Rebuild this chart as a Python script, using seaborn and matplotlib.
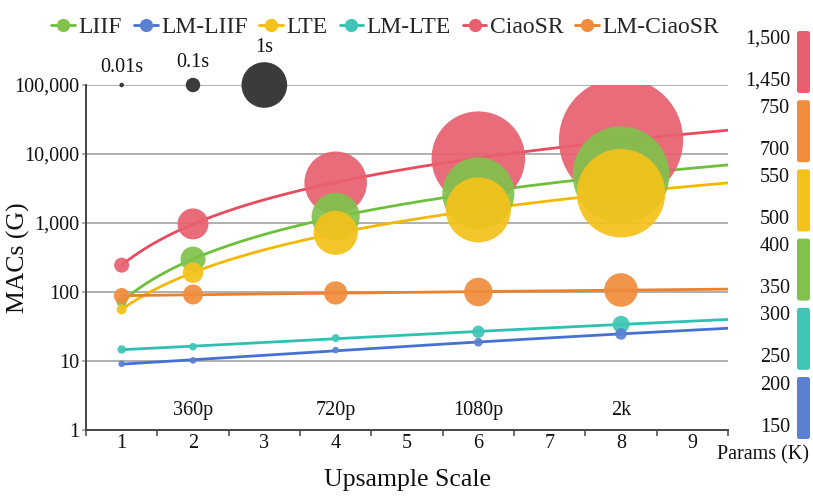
import numpy as np
import pandas as pd
import matplotlib
matplotlib.use("Agg")
import matplotlib.pyplot as plt
import seaborn as sns
from matplotlib.lines import Line2D
from matplotlib.patches import FancyBboxPatch
from matplotlib.ticker import FixedLocator, NullLocator, FuncFormatter

# upsample scales where each model was measured
scales = [1, 2, 4, 6, 8]

# MACs (G) per model
macs_liif = [72, 300, 1230, 2700, 5000]
macs_lm_liif = [9.1, 10.2, 14.4, 18.7, 24.7]
macs_lte = [56, 190, 720, 1550, 2700]
macs_lm_lte = [14.7, 16.1, 21.5, 26.5, 34]
macs_ciaosr = [245, 970, 3830, 8700, 15900]
macs_lm_ciaosr = [88, 92, 97, 100, 107]

# run time (s) per model -> bubble area
time_liif = [0.05, 0.30, 1.11, 2.49, 4.49]
time_lm_liif = [0.021, 0.021, 0.021, 0.036, 0.065]
time_lte = [0.048, 0.20, 0.93, 2.03, 3.75]
time_lm_lte = [0.034, 0.028, 0.031, 0.074, 0.139]
time_ciaosr = [0.108, 0.46, 1.88, 4.2, 7.4]
time_lm_ciaosr = [0.118, 0.19, 0.26, 0.39, 0.54]

# params (K) ranges shown on the right
params_ciaosr = (1450, 1500)
params_lm_ciaosr = (700, 750)
params_lte = (500, 550)
params_liif = (350, 400)
params_lm_lte = (250, 300)
params_lm_liif = (150, 200)

# reference bubbles
ref_x = [1, 2, 3]
ref_time = [0.01, 0.1, 1.0]
ref_labels = ["0.01s", "0.1s", "1s"]

res_x = [2, 4, 6, 8]
res_labels = ["360p", "720p", "1080p", "2k"]

yticks = [1, 10, 100, 1000, 10000, 100000]
xticks = [1, 2, 3, 4, 5, 6, 7, 8, 9]

# name, macs, time, params, bubble color, line color
models = [
    ("CiaoSR", macs_ciaosr, time_ciaosr, params_ciaosr, "#e8606f", "#e84a5f"),
    ("LIIF", macs_liif, time_liif, params_liif, "#80c24c", "#6dbf3c"),
    ("LTE", macs_lte, time_lte, params_lte, "#f4c21a", "#f5b800"),
    ("LM-LTE", macs_lm_lte, time_lm_lte, params_lm_lte, "#3fc6b6", "#2fc0b0"),
    ("LM-LIIF", macs_lm_liif, time_lm_liif, params_lm_liif, "#5b80d2", "#4572d0"),
    ("LM-CiaoSR", macs_lm_ciaosr, time_lm_ciaosr, params_lm_ciaosr, "#f08c3c", "#f07f2a"),
]
legend_order = ["LIIF", "LM-LIIF", "LTE", "LM-LTE", "CiaoSR", "LM-CiaoSR"]
bar_order = ["CiaoSR", "LM-CiaoSR", "LTE", "LIIF", "LM-LTE", "LM-LIIF"]

AREA = 1080  # points^2 per second

sns.set_theme(style="white")
plt.rcParams["font.family"] = ["Liberation Serif", "DejaVu Serif"]

fig = plt.figure(figsize=(8.13, 4.99), dpi=100)
ax = fig.add_axes([86 / 813, 69 / 499, 642 / 813, 345 / 499])

ax.set_yscale("log")
ax.set_xlim(0.5, 9.5)
ax.set_ylim(1, 100000)

# horizontal grid
for yv in yticks[1:]:
    ax.axhline(yv, color="#9a9a9a", lw=1.1, zorder=0)

# fitted trend curves
xs = np.linspace(1, 9.5, 200)
for name, macs, t, p, c, lc in models:
    coef = np.polyfit(scales, macs, 2, w=1 / np.array(macs))
    fit = pd.DataFrame({"x": xs, "y": np.polyval(coef, xs)})
    sns.lineplot(data=fit, x="x", y="y", color=lc, lw=2.0, ax=ax, zorder=2)

# bubbles
for name, macs, t, p, c, lc in models:
    df = pd.DataFrame({"x": scales, "y": macs})
    sns.scatterplot(data=df, x="x", y="y", s=np.array(t) * AREA, color=c,
                    alpha=0.92, edgecolor="none", linewidth=0, ax=ax, zorder=3)

# time reference bubbles
ref = pd.DataFrame({"x": ref_x, "y": [100000] * 3})
sns.scatterplot(data=ref, x="x", y="y", s=np.array(ref_time) * AREA, color="#3b3b3b",
                edgecolor="none", linewidth=0, ax=ax, zorder=4, clip_on=False)
for xv, tv, lab in zip(ref_x, ref_time, ref_labels):
    r = np.sqrt(tv * AREA) / 2
    ax.annotate(lab, (xv, 100000), xytext=(0, r + 4), textcoords="offset points",
                ha="center", va="bottom", fontsize=14.5, color="#111111")

for xv, lab in zip(res_x, res_labels):
    ax.text(xv, 1.9, lab, ha="center", va="center", fontsize=14.5, color="#111111")

# axes styling
for side in ["top", "right"]:
    ax.spines[side].set_visible(False)
ax.spines["left"].set_color("#444444")
ax.spines["bottom"].set_color("#444444")
ax.spines["left"].set_linewidth(1.4)
ax.spines["bottom"].set_linewidth(1.4)

ax.yaxis.set_major_locator(FixedLocator(yticks))
ax.yaxis.set_minor_locator(NullLocator())
ax.yaxis.set_major_formatter(FuncFormatter(lambda v, pos: f"{int(v):,}"))
ax.tick_params(axis="y", left=True, length=3, width=1.1, color="#9a9a9a",
               labelsize=14.5, labelcolor="#111111", pad=2)

ax.set_xticks(xticks)
ax.set_xticks(np.arange(0.5, 9.6, 1.0), minor=True)
ax.tick_params(axis="x", which="major", bottom=False, length=0, labelsize=14.5,
               labelcolor="#111111", pad=3)
ax.tick_params(axis="x", which="minor", bottom=True, length=4, width=1.1,
               color="#444444")

ax.set_xlabel("Upsample Scale", fontsize=18.5, color="#111111")
ax.set_ylabel("MACs (G)", fontsize=18.5, color="#111111")
ax.xaxis.set_label_coords(0.5, -0.112)
ax.yaxis.set_label_coords(-0.087, 0.5)

# legend
colors = {m[0]: (m[4], m[5]) for m in models}
handles = [Line2D([0], [0], color=colors[n][1], lw=2, marker="o", markersize=8.5,
                  markerfacecolor=colors[n][0], markeredgecolor=colors[n][0])
           for n in legend_order]
fig.legend(handles, legend_order, loc="upper center", bbox_to_anchor=(0.474, 1.01),
           ncol=6, frameon=False, fontsize=17, handlelength=1.0,
           handletextpad=0.15, columnspacing=0.5)

# params bars on the right
params = {m[0]: (m[3], m[4]) for m in models}
ov = fig.add_axes([0, 0, 1, 1], facecolor="none")
ov.set_xlim(0, 813)
ov.set_ylim(499, 0)
ov.axis("off")
top = 31
for name in bar_order:
    (lo, hi), c = params[name]
    ov.add_patch(FancyBboxPatch((797, top), 13, 62, boxstyle="round,pad=0,rounding_size=2.5",
                                fc=c, ec="none"))
    ov.text(790, top + 8, f"{hi:,}", ha="right", va="center", fontsize=14.5, color="#111111")
    ov.text(790, top + 50, f"{lo:,}", ha="right", va="center", fontsize=14.5, color="#111111")
    top += 69.2
ov.text(809, 455, "Params (K)", ha="right", va="center", fontsize=14.5, color="#111111")

fig.savefig("out.png", dpi=100)
